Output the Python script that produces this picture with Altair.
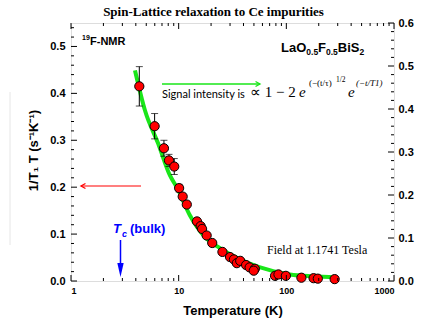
import altair as alt
import pandas as pd

# ---- data ----
temp = [4.31, 5.98, 7.30, 8.13, 9.10, 10.1, 10.9, 11.9, 14.8, 16.0, 16.5, 18.2, 20.5,
        25.5, 30.0, 32.6, 34.7, 37.3, 42.3, 45.6, 51.0, 49.8, 78.5, 84.5, 99.0,
        138.0, 179.0, 196.0, 281.0]
rate = [0.415, 0.330, 0.283, 0.257, 0.244, 0.198, 0.180, 0.163, 0.127, 0.117, 0.111,
        0.097, 0.081, 0.062, 0.051, 0.046, 0.038, 0.043, 0.034, 0.029, 0.026, 0.022,
        0.011, 0.014, 0.011, 0.007, 0.006, 0.005, 0.004]
err = [0.042, 0.027, 0.017, 0.013, 0.017, 0.008, 0, 0, 0, 0, 0, 0, 0,
       0, 0, 0, 0, 0, 0, 0, 0, 0, 0, 0, 0, 0, 0, 0, 0]

fit_T = [3.93, 4.86, 6.45, 8.3, 9.7, 12.7, 17.5, 24.2, 42.7, 75.5, 108.0, 177.0, 292.0]
fit_R = [0.449, 0.364, 0.293, 0.225, 0.198, 0.140, 0.094, 0.070, 0.040, 0.021, 0.014, 0.010, 0.008]

x_major = [1, 10, 100, 1000]
x_minor = [k * 10 ** d for d in range(3) for k in range(2, 10)]
yl_major = [0.0, 0.1, 0.2, 0.3, 0.4, 0.5]
yl_minor = [round(i * 0.02, 2) for i in range(28) if i % 5 != 0]
yr_major = [0.0, 0.1, 0.2, 0.3, 0.4, 0.5, 0.6]
yr_minor = [round(i * 0.02, 2) for i in range(31) if i % 5 != 0]

W, H = 323, 258
RED, GREEN, BLUE = "#ff0000", "#19e619", "#0000ff"
SANS = "Liberation Sans"
SERIF = "Liberation Serif"

pts = pd.DataFrame({"T": temp, "R": rate, "e": err})
bars = pts[pts.e > 0].copy()
bars["lo"] = bars.R - bars.e
bars["hi"] = bars.R + bars.e
fit = pd.DataFrame({"T": fit_T, "R": fit_R})

xs = alt.Scale(type="log", domain=[1, 1000], nice=False)
ls = alt.Scale(domain=[0, 0.55], nice=False, zero=False)
rs = alt.Scale(domain=[0, 0.6], nice=False, zero=False)

x_axis = alt.Axis(values=x_major, format="d", ticks=False, domain=False, grid=False,
                  labelFont=SANS, labelFontWeight="bold", labelFontSize=9, labelPadding=5,
                  labelFlush=True, title="Temperature (K)", titleFont=SANS,
                  titleFontWeight="bold", titleFontSize=13, titleX=W / 2, titleY=29,
                  titleBaseline="middle", titleAlign="center")
yl_axis = alt.Axis(values=yl_major, format=".1f", ticks=False, domain=False, grid=False,
                   labelFont=SANS, labelFontWeight="bold", labelFontSize=11, labelPadding=6,
                   title="1/T₁ T (s⁻¹K⁻¹)", titleFont=SANS, titleFontWeight="bold",
                   titleFontSize=13, titleX=-38, titleY=H / 2 - 2, titleAngle=-90,
                   titleBaseline="middle", titleAlign="center")
yr_axis = alt.Axis(orient="right", values=yr_major, format=".1f", ticks=False, domain=False,
                   grid=False, labelFont=SANS, labelFontWeight="bold", labelFontSize=11,
                   labelPadding=4, title=None)


def X(f):
    return alt.X(f, type="quantitative", scale=xs, axis=x_axis)


def YL(f):
    return alt.Y(f, type="quantitative", scale=ls, axis=yl_axis)


def YR(f):
    return alt.Y(f, type="quantitative", scale=rs, axis=yr_axis)


curve = alt.Chart(fit).mark_line(color=GREEN, strokeWidth=4, interpolate="monotone").encode(
    x=X("T"), y=YL("R"))
ebar = alt.Chart(bars).mark_rule(color="black", strokeWidth=1).encode(
    x=X("T"), y=YL("lo"), y2="hi")
cap_lo = alt.Chart(bars).mark_tick(color="black", orient="horizontal", size=7, thickness=1).encode(
    x=X("T"), y=YL("lo"))
cap_hi = alt.Chart(bars).mark_tick(color="black", orient="horizontal", size=7, thickness=1).encode(
    x=X("T"), y=YL("hi"))
dots = alt.Chart(pts).mark_point(filled=True, fill=RED, stroke="black", strokeWidth=1,
                                 size=85, opacity=1, shape="circle").encode(x=X("T"), y=YL("R"))


def vticks(vals, length, top):
    df = pd.DataFrame({"v": vals})
    if top:
        return alt.Chart(df).mark_rule(color="black").encode(
            x=X("v"), y=alt.value(0), y2=alt.value(length))
    return alt.Chart(df).mark_rule(color="black").encode(
        x=X("v"), y=alt.value(H), y2=alt.value(H - length))


def hticks(vals, length, right, enc):
    df = pd.DataFrame({"v": vals})
    if right:
        return alt.Chart(df).mark_rule(color="black").encode(
            y=enc("v"), x=alt.value(W), x2=alt.value(W - length))
    return alt.Chart(df).mark_rule(color="black").encode(
        y=enc("v"), x=alt.value(0), x2=alt.value(length))


one = pd.DataFrame({"a": [0]})


def txt(text, x, y, size, color="black", font=SANS, weight="normal", style="normal",
        align="left", baseline="middle"):
    return alt.Chart(one).mark_text(text=text, font=font, fontSize=size, fontWeight=weight,
                                    fontStyle=style, color=color, align=align,
                                    baseline=baseline).encode(x=alt.value(x), y=alt.value(y))


def seg(x1, y1, x2, y2, color, width=1.0):
    return alt.Chart(one).mark_rule(color=color, strokeWidth=width).encode(
        x=alt.value(x1), y=alt.value(y1), x2=alt.value(x2), y2=alt.value(y2))


def head(x, y, shape, color, size, filled=False, width=1.3):
    return alt.Chart(one).mark_point(shape=shape, filled=filled, color=color, size=size,
                                     strokeWidth=width, opacity=1).encode(
        x=alt.value(x), y=alt.value(y))


annos = [
    txt("Spin-Lattice relaxation to Ce impurities", W / 2 - 19, -11, 13, font=SERIF,
        weight="bold", align="center"),
    txt("19", 11, 15, 7, weight="bold"),
    txt("F-NMR", 19, 19, 11, weight="bold"),
    txt("LaO", 210, 29, 13, weight="bold", baseline="alphabetic"),
    txt("0.5", 235.3, 32, 8.5, weight="bold", baseline="alphabetic"),
    txt("F", 247.1, 29, 13, weight="bold", baseline="alphabetic"),
    txt("0.5", 255, 32, 8.5, weight="bold", baseline="alphabetic"),
    txt("BiS", 266.8, 29, 13, weight="bold", baseline="alphabetic"),
    txt("2", 288.5, 32, 8.5, weight="bold", baseline="alphabetic"),
    seg(91, 61, 189, 61, GREEN, 1.5),
    head(189, 61, "M-1,-0.55L0,0L-1,0.55", GREEN, 80),
    txt("Signal intensity is", 91, 72, 11, font="Lato"),
    txt("∝ 1 − 2", 179, 69, 15, font=SERIF),
    txt("e", 228, 69, 15, font=SERIF, style="italic"),
    txt("(−(t/τ)", 238, 60, 9, font=SERIF),
    txt("1/2", 265, 57, 7.5, font=SERIF),
    txt("e", 277, 69, 15, font=SERIF, style="italic"),
    txt("(−t/T1)", 285, 60, 9, font=SERIF, style="italic"),
    seg(10, 163, 70, 163, RED, 1.2),
    head(10, 163, "M1,-0.55L0,0L1,0.55", RED, 80),
    txt("T", 42, 210, 13, color=BLUE, weight="bold", style="italic", baseline="alphabetic"),
    txt("c", 51, 214, 9, color=BLUE, weight="bold", style="italic", baseline="alphabetic"),
    txt("(bulk)", 59, 210, 13, color=BLUE, weight="bold", baseline="alphabetic"),
    seg(49.5, 217, 49.5, 246, BLUE, 1.5),
    head(49.5, 247, "M-0.45,-1L0,1L0.45,-1Z", BLUE, 200, filled=True),
    txt("Field at 1.1741 Tesla", 196, 227, 12, font=SERIF),
    seg(-61, 69, -61, 222, "#e6e6e6", 1),
]

left = alt.layer(
    curve, ebar, cap_lo, cap_hi, dots,
    vticks(x_major, 6, False), vticks(x_minor, 3, False),
    vticks(x_major, 6, True), vticks(x_minor, 3, True),
    hticks(yl_major, 6, False, YL), hticks(yl_minor, 3, False, YL),
    *annos,
)
right = alt.layer(hticks(yr_major, 6, True, YR), hticks(yr_minor, 3, True, YR))

chart = alt.layer(left, right).resolve_scale(y="independent").properties(
    width=W, height=H, autosize="none",
    padding={"left": 71, "top": 23, "right": 30, "bottom": 39},
).configure_view(stroke="black", strokeWidth=2).configure(background="white")

chart.save("out.html", embed_options={"renderer": "svg", "actions": False})
